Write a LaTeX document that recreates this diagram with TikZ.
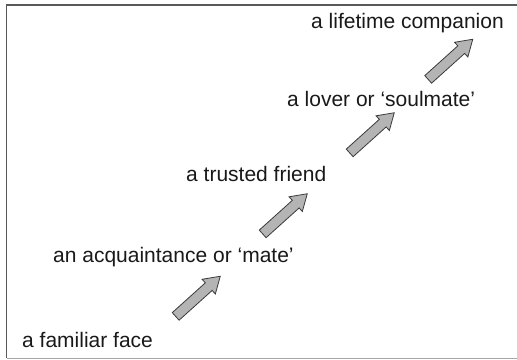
\documentclass[tikz,border=0pt]{standalone}
\usepackage{fontspec}
\setmainfont{Liberation Sans}
\usepackage{xcolor}
\usepackage{tikz}
\usetikzlibrary{shapes.arrows}
\definecolor{rgrey}{HTML}{B4B4B4}
\definecolor{rline}{HTML}{3A3A3A}
\tikzset{
  rframe/.style={draw=black!65, line width=1.5pt},
  rframelo/.style={draw=black!35, line width=1pt},
  rlabel/.style={anchor=base west, inner sep=0pt, text=black!90,
                 font=\fontsize{21}{25}\selectfont},
  rarrow/.style={single arrow, draw=rline, fill=rgrey, line width=0.8pt,
                 minimum height=60pt, inner xsep=0pt, inner ysep=4.7pt,
                 single arrow head extend=4.8pt, single arrow tip angle=65,
                 rotate=42},
}
\begin{document}
\begin{tikzpicture}[x=1pt,y=-1pt]
  \useasboundingbox (0,0) rectangle (517,359);

  % moldura
  \draw[rframelo] (6.5,358) -- (517,358);
  \draw[rframe] (6.5,358) -- (6.5,5) -- (517,5);

  % etapas
  \node[rlabel] (face)      at (22,347.5)  {a familiar face};
  \node[rlabel] (mate)      at (53,262)    {an acquaintance or ‘mate’};
  \node[rlabel] (friend)    at (186,181.5) {a trusted friend};
  \node[rlabel] (soulmate)  at (287,106)   {a lover or ‘soulmate’};
  \node[rlabel] (companion) at (311,28)    {a lifetime companion};

  % setas
  \node[rarrow] (up1) at (195,299)   {};
  \node[rarrow] (up2) at (282,216.5) {};
  \node[rarrow] (up3) at (369,135.5) {};
  \node[rarrow] (up4) at (447.5,62)  {};

\end{tikzpicture}
\end{document}
